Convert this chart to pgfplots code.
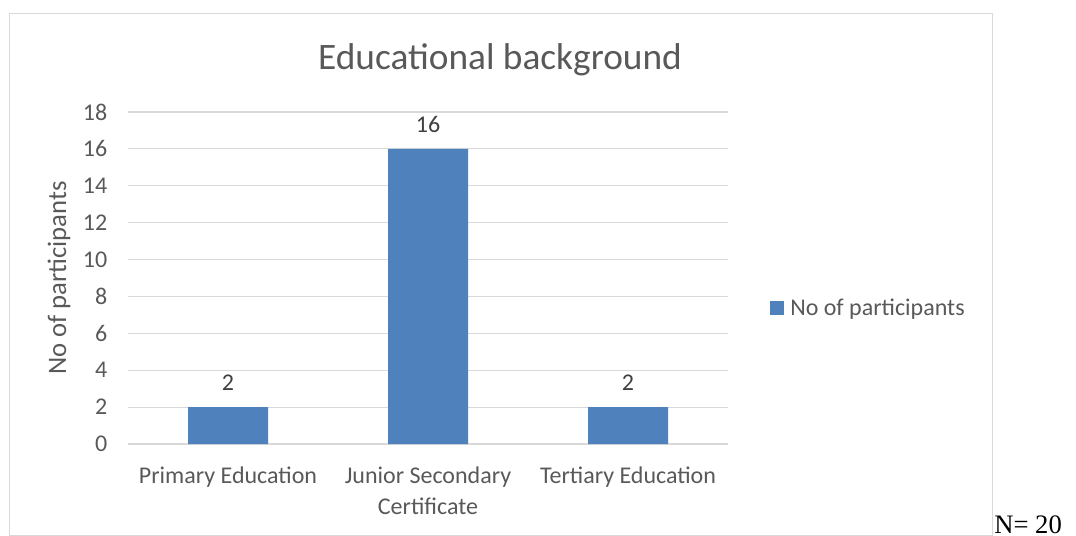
\documentclass[border=0pt]{standalone}
\usepackage{pgfplots}
\pgfplotsset{compat=1.18}
\usepackage{fontspec}
\setmainfont{Carlito}
\newfontfamily\timesfont{Liberation Serif}
\definecolor{barblue}{HTML}{4F81BD}
\definecolor{txt}{HTML}{595959}
\definecolor{lbl}{HTML}{404040}
\definecolor{gridc}{HTML}{D9D9D9}
\begin{document}
\begin{tikzpicture}
\useasboundingbox (0pt,0pt) rectangle ({1076*0.75pt},{-536*0.75pt});
\draw[gridc, line width=0.9pt] ({9.5*0.75pt},{-13.5*0.75pt}) rectangle ({992.5*0.75pt},{-535.5*0.75pt});
\node[anchor=base west, inner sep=0pt, font=\timesfont\fontsize{20}{20}\selectfont] at ({994*0.75pt},{-533*0.75pt}) {N= 20};
\begin{axis}[
  at={(96pt,-333pt)}, anchor=south west,
  scale only axis, width=450pt, height=249pt,
  xmin=-0.5, xmax=2.5, ymin=0, ymax=18,
  ytick={0,2,...,18},
  xtick={0,1,2},
  xticklabels={Primary Education, Junior Secondary\\Certificate, Tertiary Education},
  xticklabel style={align=center, font=\fontsize{18}{23}\selectfont, text=txt, yshift=-13.5pt},
  yticklabel style={font=\fontsize{18}{20}\selectfont, text=txt, xshift=-12pt},
  /pgf/number format/assume math mode=true,
  major tick length=0pt,
  ymajorgrids, major grid style={gridc, line width=0.9pt},
  axis x line=bottom, axis y line=left,
  x axis line style={gridc, line width=0.9pt, -},
  y axis line style={draw=none},
  ylabel={No of participants},
  ylabel style={at={(axis description cs:-0.115,0.5)}, anchor=center, font=\fontsize{20}{22}\selectfont, text=txt},
  title={Educational background},
  title style={at={(axis description cs:0.62,1.133)}, anchor=center, font=\fontsize{28}{30}\selectfont, text=txt},
  ybar, bar width=60pt,
  nodes near coords,
  nodes near coords style={font=\fontsize{18}{20}\selectfont, text=lbl, yshift=9pt},
  legend style={at={(axis description cs:1.07,0.41)}, anchor=west, draw=none, inner sep=0pt, font=\fontsize{18}{20}\selectfont, text=txt},
  legend image code/.code={\fill[barblue] (0pt,-5pt) rectangle (10pt,5pt);},
  legend cell align=left,
  legend style={/tikz/every even column/.append style={column sep=3pt}},
]
\addplot[fill=barblue, draw=none] coordinates {(0,2) (1,16) (2,2)};
\addlegendentry{\hspace{3pt}No of participants}
\end{axis}
\end{tikzpicture}
\end{document}
